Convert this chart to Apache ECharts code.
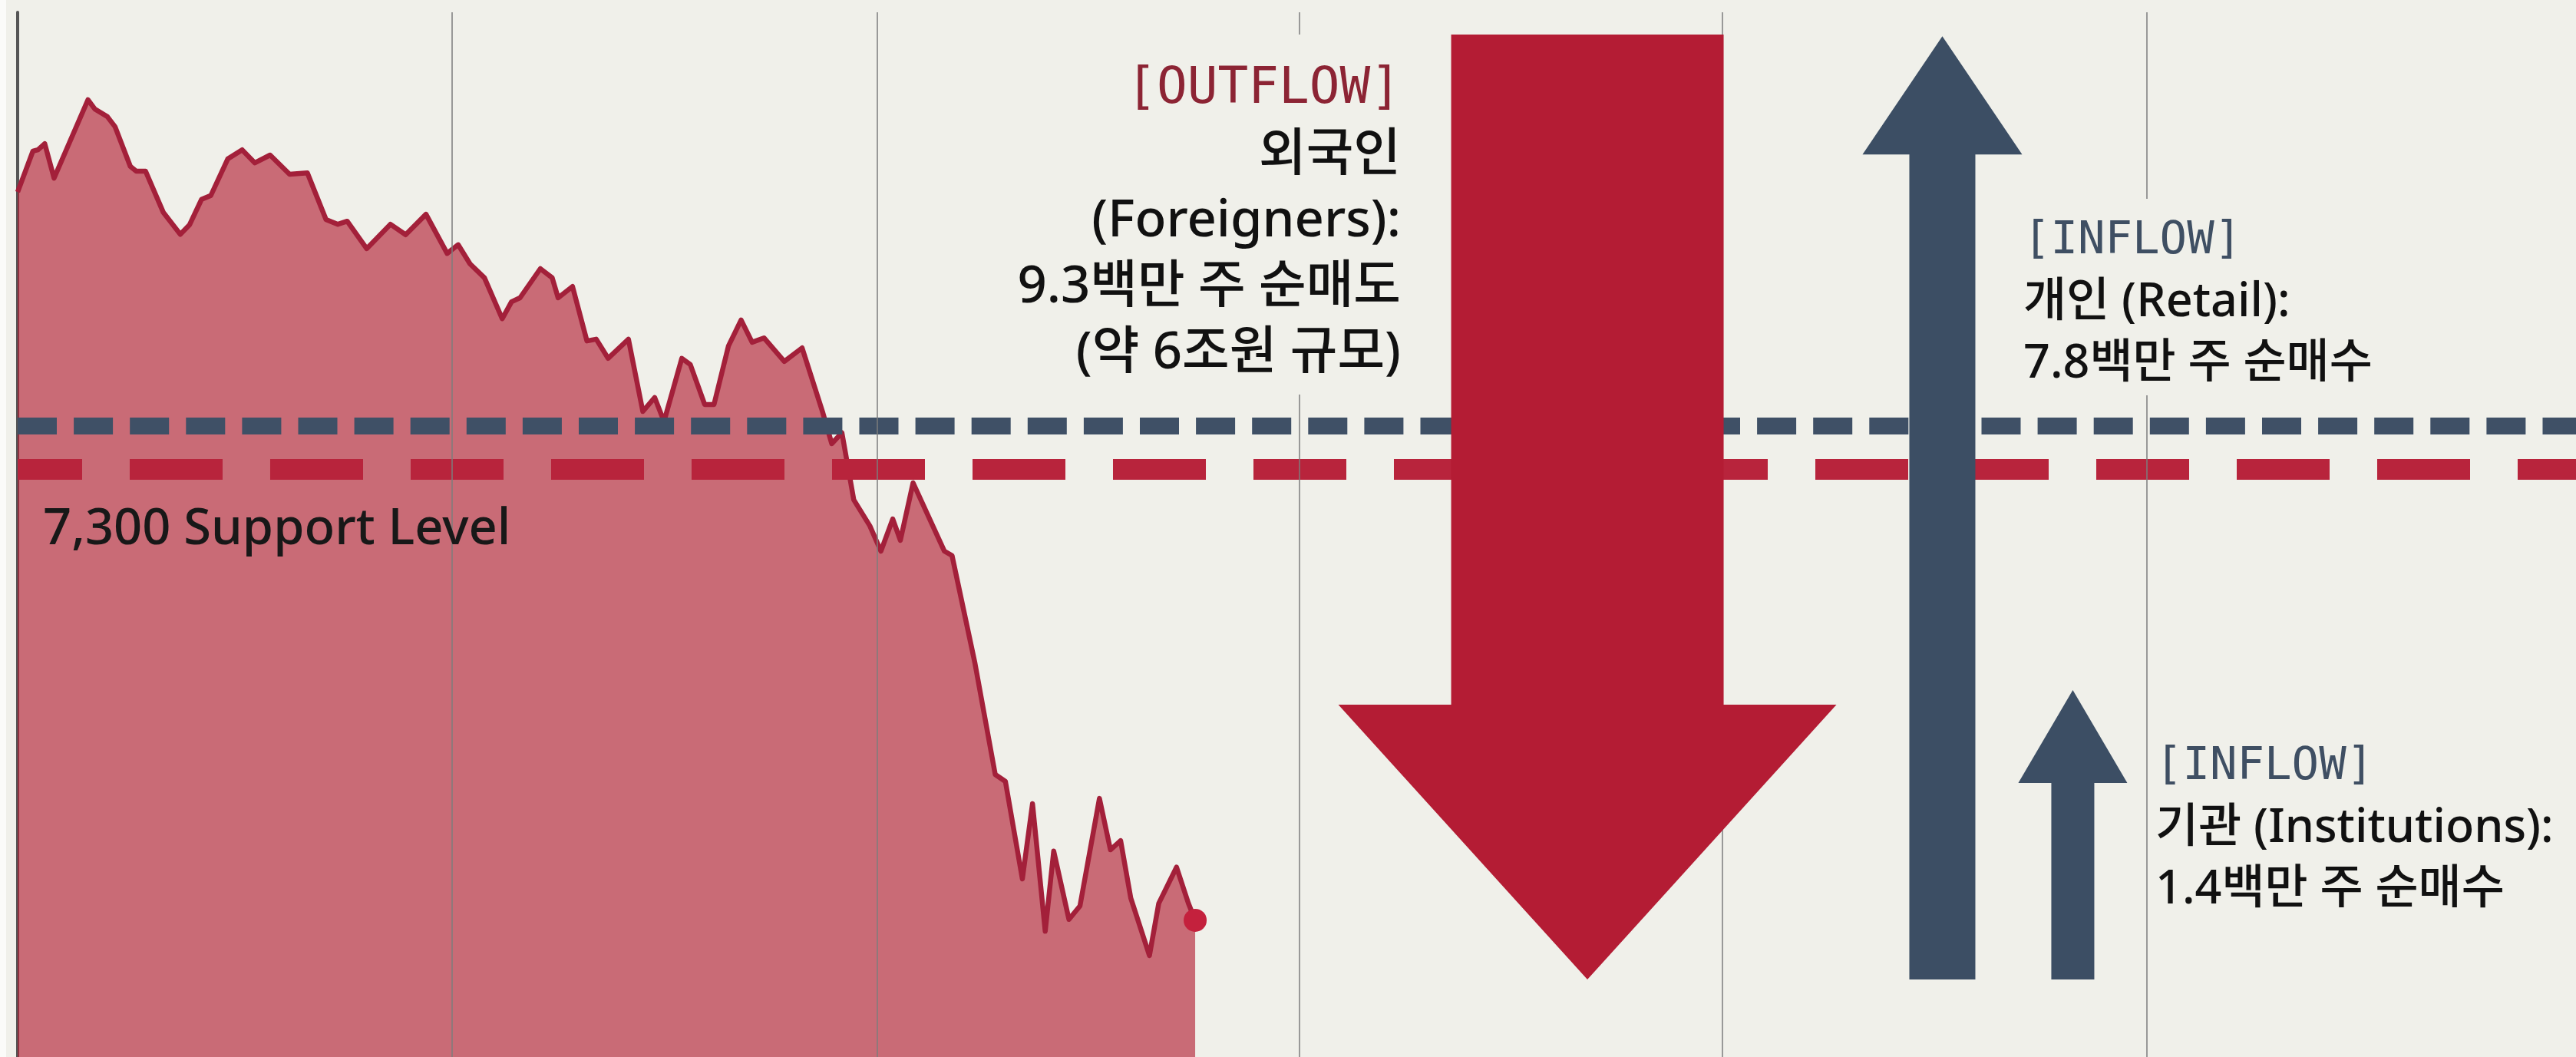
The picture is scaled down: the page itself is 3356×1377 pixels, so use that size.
<!DOCTYPE html>
<html>
<head>
<meta charset="utf-8">
<script src="https://cdn.jsdelivr.net/npm/echarts@6/dist/echarts.min.js"></script>
<style>
html,body{margin:0;padding:0;background:#f0f0ea;}
#chart{width:3356px;height:1377px;}
</style>
</head>
<body>
<div id="chart"></div>
<script>
// ---- data ----
const sessions = [0,1.8,2.4,3.2,4.3,8.3,9.1,10.6,11.5,13.3,
  14.0,15.1,17.2,19.2,20.3,21.7,22.8,24.8,26.5,28.0,
  29.8,32.1,34.2,36.4,37.8,38.9,41.2,44.0,45.8,48.2,
  50.7,52.0,53.4,55.1,57.2,58.3,59.3,61.7,63.1,63.8,
  65.5,67.2,68.3,69.7,72.1,73.8,75.2,76.3,78.4,79.4,
  81.1,82.2,83.9,85.4,86.7,88.1,90.5,92.6,95.0,96.1,
  97.3,98.7,100.6,101.9,103.3,104.2,105.7,109.4,110.3,113.0,
  115.4,116.6,118.6,119.8,121.3,122.3,124.1,125.4,127.7,129.0,
  130.2,131.4,133.6,134.7,136.8,138.2,139.0];
const prices = [7937,8031,8034,8048,7969,8149,8128,8110,8087,7996,
  7985,7985,7890,7840,7862,7920,7929,8013,8034,8004,
  8022,7978,7981,7874,7863,7870,7807,7863,7839,7886,
  7796,7816,7772,7740,7646,7685,7694,7761,7740,7694,
  7720,7595,7599,7555,7599,7433,7465,7410,7555,7541,
  7449,7449,7583,7643,7592,7602,7548,7579,7433,7359,
  7384,7230,7170,7112,7186,7137,7269,7112,7102,6855,
  6599,6583,6359,6532,6239,6423,6266,6297,6544,6426,
  6447,6315,6183,6303,6386,6303,6264];
const gridSessions = [51.3, 101.5, 151.3, 201.2, 251.3];
const upperLevel = 7400;
const supportLevel = 7300;
const supportLabel = '7,300 Support Level';

// flow arrows: session position, tail price, tip price
const arrowSessions = [185.3, 227.2, 242.6];
const arrowFrom = [8299, 6128, 6128];
const arrowTo = [6128, 8295, 6793];

const outflowTag = '[OUTFLOW]';
const outflowLines = ['외국인', '(Foreigners):', '9.3백만 주 순매도', '(약 6조원 규모)'];
const retailTag = '[INFLOW]';
const retailLines = ['개인 (Retail):', '7.8백만 주 순매수'];
const instTag = '[INFLOW]';
const instLines = ['기관 (Institutions):', '1.4백만 주 순매수'];

// ---- styles ----
const BG = '#f0f0ea';
const SANS = '"Noto Sans", "Noto Sans CJK KR", sans-serif';
const MONO = '"DejaVu Sans Mono", monospace';
const arrowShapes = [
  {bodyW: 355, headW: 649, headL: 358, color: '#b41c34'},
  {bodyW: 86, headW: 208, headL: 154, color: '#3c4e64'},
  {bodyW: 56, headW: 142, headL: 121, color: '#3c4e64'}
];

const last = sessions.length - 1;
const chart = echarts.init(document.getElementById('chart'));

function block(tag, lines) {
  return ['{tag|' + tag + '}'].concat(lines.map(l => '{b|' + l + '}')).join('\n');
}

const option = {
  backgroundColor: BG,
  animation: false,
  grid: {left: 23, right: 0, top: 16, bottom: 0, containLabel: false},
  xAxis: {
    type: 'value', min: 0, max: 302,
    axisLine: {show: false}, axisTick: {show: false}, axisLabel: {show: false}, splitLine: {show: false}
  },
  yAxis: {
    type: 'value', min: 5950, max: 8350,
    axisLine: {show: true, onZero: false, lineStyle: {color: '#555555', width: 4}},
    axisTick: {show: false}, axisLabel: {show: false}, splitLine: {show: false}
  },
  series: [
    {
      type: 'line',
      silent: true,
      z: 2,
      data: sessions.map((s, i) => [s, prices[i]]),
      symbol: 'circle',
      symbolSize: (v, p) => (p.dataIndex === last ? 30 : 0),
      showSymbol: true,
      itemStyle: {color: '#c4213d', borderWidth: 0},
      lineStyle: {color: '#a3203a', width: 6.5, join: 'round'},
      areaStyle: {color: 'rgb(178,28,50)', opacity: 0.63, origin: 'start'},
      markLine: {
        silent: true, z: 3, symbol: ['none', 'none'], label: {show: false},
        data: [
          {yAxis: upperLevel, lineStyle: {color: '#3f5066', width: 22, type: [51, 22.1], dashOffset: 0}},
          {yAxis: supportLevel, lineStyle: {color: '#b8243c', width: 27, type: [121, 62], dashOffset: 37}}
        ]
      }
    },
    {
      type: 'custom',
      silent: true,
      z: 6,
      clip: false,
      encode: {x: 0, y: [1, 2]},
      data: arrowSessions.map((s, i) => [s, arrowFrom[i], arrowTo[i]]),
      renderItem: (params, api) => {
        const sh = arrowShapes[params.dataIndex];
        const a = api.coord([api.value(0), api.value(1)]);
        const b = api.coord([api.value(0), api.value(2)]);
        const cx = a[0];
        const dir = b[1] > a[1] ? 1 : -1;
        const baseY = b[1] - dir * sh.headL;
        return {
          type: 'polygon',
          shape: {points: [
            [cx - sh.bodyW / 2, a[1]], [cx + sh.bodyW / 2, a[1]],
            [cx + sh.bodyW / 2, baseY], [cx + sh.headW / 2, baseY],
            [cx, b[1]],
            [cx - sh.headW / 2, baseY], [cx - sh.bodyW / 2, baseY]
          ]},
          style: {fill: sh.color}
        };
      },
      markLine: {
        silent: true, z: 4, symbol: ['none', 'none'], label: {show: false},
        lineStyle: {color: '#7d7d7d', width: 1.5, type: 'solid'},
        data: gridSessions.map(v => ({xAxis: v}))
      }
    }
  ],
  graphic: [
    {
      type: 'rect', z: 100, silent: true,
      shape: {x: 0, y: 0, width: 8, height: 1377},
      style: {fill: '#fbfbf9'}
    },
    {
      type: 'text', x: 1833, y: 45, z: 100,
      style: {
        text: block(outflowTag, outflowLines),
        align: 'right', verticalAlign: 'top',
        backgroundColor: BG, padding: [29, 8, 10, 8],
        rich: {
          tag: {fontFamily: MONO, fontSize: 66, lineHeight: 86, fill: '#8c2434', align: 'right'},
          b: {fontFamily: SANS, fontWeight: 500, fontSize: 67, lineHeight: 86, fill: '#111111', align: 'right'}
        }
      }
    },
    {
      type: 'text', x: 2628, y: 259, z: 100,
      style: {
        text: block(retailTag, retailLines),
        align: 'left', verticalAlign: 'top',
        backgroundColor: BG, padding: [16, 8, 0, 8],
        rich: {
          tag: {fontFamily: MONO, fontSize: 59, lineHeight: 80, fill: '#3f4f63', align: 'left'},
          b: {fontFamily: SANS, fontWeight: 500, fontSize: 61, lineHeight: 80, fill: '#111111', align: 'left'}
        }
      }
    },
    {
      type: 'text', x: 2800, y: 960, z: 100,
      style: {
        text: block(instTag, instLines),
        align: 'left', verticalAlign: 'top',
        padding: [0, 8, 0, 8],
        rich: {
          tag: {fontFamily: MONO, fontSize: 59, lineHeight: 80, fill: '#3f4f63', align: 'left'},
          b: {fontFamily: SANS, fontWeight: 500, fontSize: 61, lineHeight: 80, fill: '#111111', align: 'left'}
        }
      }
    },
    {
      type: 'text', x: 56, y: 690, z: 100,
      style: {
        text: supportLabel,
        fontFamily: SANS, fontWeight: 500, fontSize: 65, fill: '#181818',
        align: 'left', verticalAlign: 'middle'
      }
    }
  ]
};
chart.setOption(option);
</script>
</body>
</html>
